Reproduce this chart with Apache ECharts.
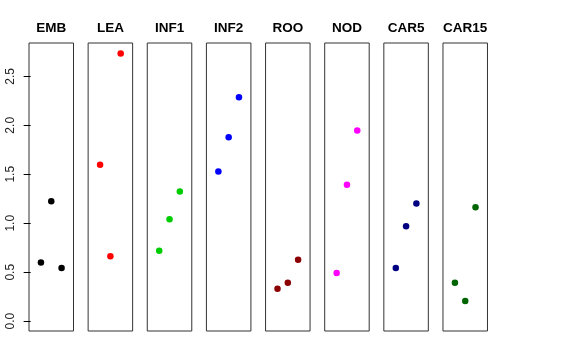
<!DOCTYPE html>
<html>
<head>
<meta charset="utf-8">
<script src="https://cdn.jsdelivr.net/npm/echarts@6/dist/echarts.min.js"></script>
<style>html,body{margin:0;padding:0;background:#fff;}#chart{width:576px;height:360px;}</style>
</head>
<body>
<div id="chart"></div>
<script>
const categories = ['EMB', 'LEA', 'INF1', 'INF2', 'ROO', 'NOD', 'CAR5', 'CAR15'];
const EMB = [0.60, 1.225, 0.543];
const LEA = [1.598, 0.662, 2.732];
const INF1 = [0.720, 1.041, 1.325];
const INF2 = [1.527, 1.878, 2.285];
const ROO = [0.331, 0.392, 0.628];
const NOD = [0.492, 1.393, 1.947];
const CAR5 = [0.543, 0.969, 1.202];
const CAR15 = [0.392, 0.205, 1.164];
const seriesValues = [EMB, LEA, INF1, INF2, ROO, NOD, CAR5, CAR15];
const colors = ['#000000', '#FF0000', '#00CD00', '#0000FF', '#8B0000', '#FF00FF', '#000080', '#006400'];
const yTicks = [0, 0.5, 1.0, 1.5, 2.0, 2.5];

const grids = [], xAxes = [], yAxes = [], series = [];
const left0 = 29, step = 59.14, w = 44.5;
categories.forEach((name, i) => {
  grids.push({left: left0 + i * step, top: 43, width: w, height: 288,
    show: true, borderColor: '#333', borderWidth: 1, backgroundColor: 'transparent'});
  xAxes.push({gridIndex: i, type: 'value', min: -0.16, max: 4.16, position: 'top',
    name: name, nameLocation: 'middle', nameGap: 8,
    nameTextStyle: {fontFamily: 'Liberation Sans', fontWeight: 'bold', fontSize: 13.5, color: '#000'},
    axisLine: {show: false}, axisTick: {show: false}, axisLabel: {show: false}, splitLine: {show: false}});
  yAxes.push({gridIndex: i, type: 'value', min: -0.1, max: 2.84,
    axisLine: {show: false},
    axisTick: {show: i === 0, length: 7, customValues: yTicks, lineStyle: {color: '#000'}},
    axisLabel: {show: i === 0, customValues: yTicks, rotate: 90, margin: 12,
      formatter: v => v.toFixed(1), fontFamily: 'Liberation Sans', fontSize: 12, color: '#222'},
    splitLine: {show: false}});
  series.push({type: 'scatter', xAxisIndex: i, yAxisIndex: i, symbolSize: 6.5,
    itemStyle: {color: colors[i], opacity: 1},
    data: seriesValues[i].map((v, j) => [j + 1, v]), silent: true, animation: false});
});

const chart = echarts.init(document.getElementById('chart'), null, {renderer: 'canvas'});
chart.setOption({backgroundColor: '#fff', animation: false, grid: grids, xAxis: xAxes, yAxis: yAxes, series: series});
</script>
</body>
</html>
